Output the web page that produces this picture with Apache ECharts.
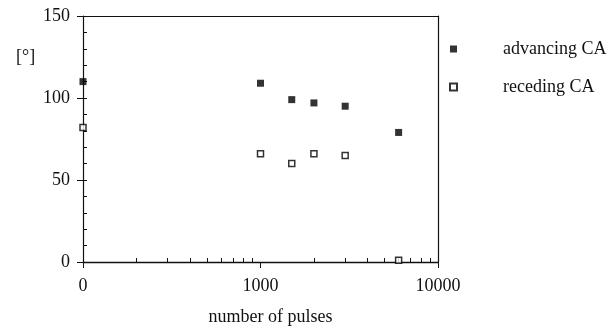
<!DOCTYPE html>
<html>
<head>
<meta charset="utf-8">
<script src="https://cdn.jsdelivr.net/npm/echarts@6/dist/echarts.min.js"></script>
<style>html,body{margin:0;padding:0;background:#fff;}#c{width:612px;height:326px;}</style>
</head>
<body>
<div id="c"></div>
<script>
// number of pulses (0 is drawn at the log axis origin)
var pulses = [0, 1000, 1500, 2000, 3000, 6000];
var advancingCA = [110, 109, 99, 97, 95, 79];
var recedingCA = [82, 66, 60, 66, 65, 1];
var xMajorTicks = [100, 1000, 10000];
var xTickLabels = ['0', '1000', '10000'];
var xMinorTicks = [200, 300, 400, 500, 600, 700, 800, 900, 2000, 3000, 4000, 5000, 6000, 7000, 8000, 9000];
var yTicks = [0, 50, 100, 150];

var LOG_ORIGIN = 100;
function px(p) { return p === 0 ? LOG_ORIGIN : p; }
var FONT = 'Liberation Serif';
var INK = '#111';

var chart = echarts.init(document.getElementById('c'));
chart.setOption({
  animation: false,
  backgroundColor: '#fff',
  textStyle: { fontFamily: FONT, color: INK },
  title: {
    text: '[°]', left: 11, top: 43,
    textStyle: { fontFamily: FONT, fontSize: 18, fontWeight: 'normal', color: INK }
  },
  grid: { left: 83, right: 174, top: 16, bottom: 64, containLabel: false, outerBoundsMode: 'none' },
  legend: {
    orient: 'vertical', left: 444, top: 35, itemWidth: 7, itemHeight: 7, itemGap: 20,
    textStyle: { fontFamily: FONT, fontSize: 18, color: INK, padding: [0, 0, 0, 41] },
    data: ['advancing CA', 'receding CA']
  },
  xAxis: [{
    type: 'log', logBase: 10, min: 100, max: 10000, position: 'bottom',
    name: 'number of pulses', nameLocation: 'middle', nameGap: 46,
    nameTextStyle: { fontFamily: FONT, fontSize: 18, color: INK, padding: [0, 0, 0, 20] },
    axisLine: { onZero: false, lineStyle: { color: INK, width: 1.3 } },
    axisTick: { show: true, length: 6, customValues: xMajorTicks, lineStyle: { color: INK } },
    axisLabel: {
      customValues: xMajorTicks, margin: 15, fontFamily: FONT, fontSize: 18, color: INK,
      formatter: function (v) { var i = xMajorTicks.indexOf(v); return i >= 0 ? xTickLabels[i] : ''; }
    },
    splitLine: { show: false }
  }, {
    type: 'log', logBase: 10, min: 100, max: 10000, position: 'bottom',
    axisLine: { show: false, onZero: false },
    axisTick: { show: true, inside: true, length: 4, customValues: xMinorTicks, lineStyle: { color: INK } },
    axisLabel: { show: false }, splitLine: { show: false }
  }, {
    type: 'log', logBase: 10, min: 100, max: 10000, position: 'top',
    axisLine: { onZero: false, lineStyle: { color: INK, width: 1.2 } },
    axisTick: { show: false }, axisLabel: { show: false }, splitLine: { show: false }
  }],
  yAxis: [{
    type: 'value', min: 0, max: 150, interval: 50, position: 'left',
    axisLine: { show: true, onZero: false, lineStyle: { color: INK, width: 1.2 } },
    axisTick: { show: true, length: 6, customValues: yTicks, lineStyle: { color: INK } },
    axisLabel: { margin: 13, fontFamily: FONT, fontSize: 18, color: INK },
    splitLine: { show: false }
  }, {
    type: 'value', min: 0, max: 150, interval: 10, position: 'left', alignTicks: false,
    axisLine: { show: false, onZero: false },
    axisTick: { show: true, inside: true, length: 4, lineStyle: { color: INK } },
    axisLabel: { show: false }, splitLine: { show: false }
  }, {
    type: 'value', min: 0, max: 150, interval: 50, position: 'right', alignTicks: false,
    axisLine: { show: true, onZero: false, lineStyle: { color: INK, width: 1.2 } },
    axisTick: { show: false }, axisLabel: { show: false }, splitLine: { show: false }
  }],
  series: [{
    name: 'advancing CA', type: 'scatter', xAxisIndex: 0, yAxisIndex: 0,
    symbol: 'rect', symbolSize: 7,
    itemStyle: { color: '#000' },
    data: pulses.map(function (p, i) { return [px(p), advancingCA[i]]; }),
    z: 5
  }, {
    name: 'receding CA', type: 'scatter', xAxisIndex: 0, yAxisIndex: 0,
    symbol: 'rect', symbolSize: 6,
    itemStyle: { color: '#fff', borderColor: '#000', borderWidth: 1.5 },
    data: pulses.map(function (p, i) { return [px(p), recedingCA[i]]; }),
    z: 5
  }]
});
</script>
</body>
</html>
